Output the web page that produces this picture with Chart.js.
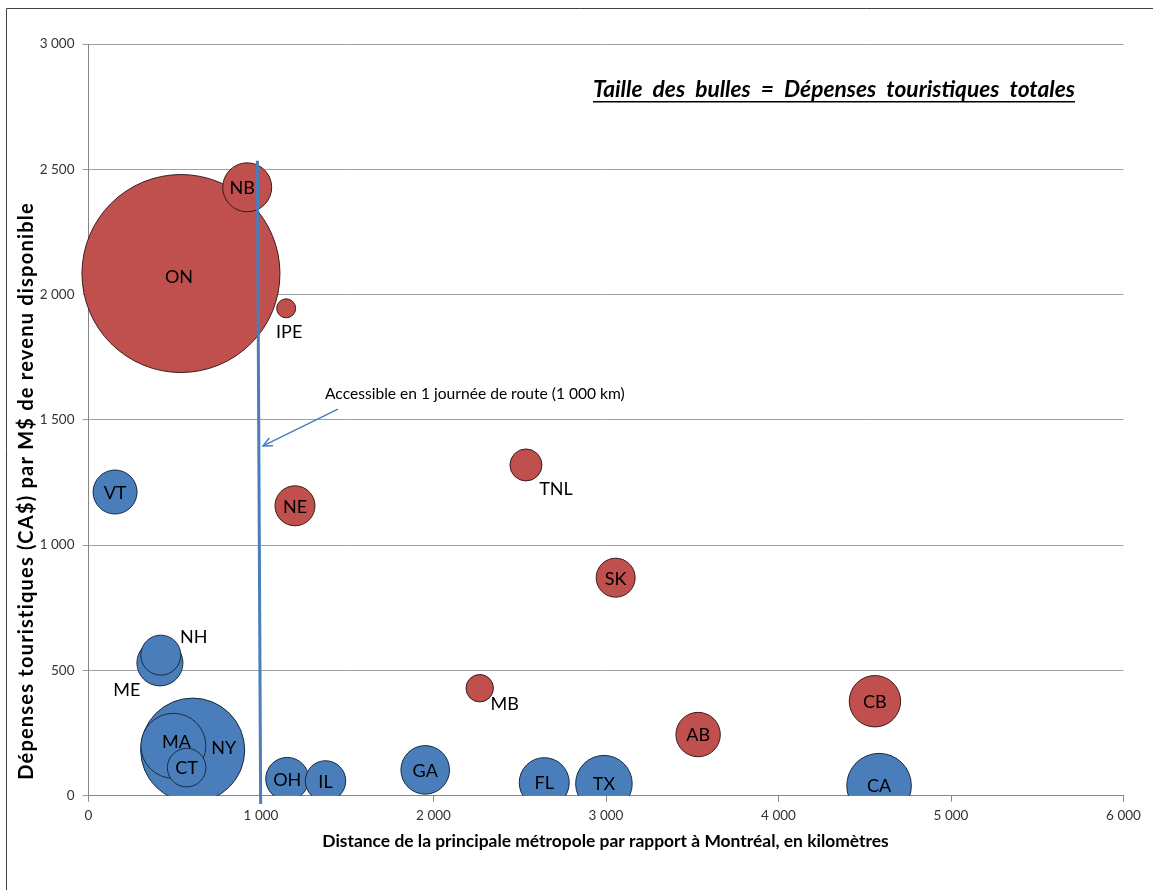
<!DOCTYPE html>
<html><head><meta charset="utf-8">
<script src="https://cdn.jsdelivr.net/npm/chart.js@4.4.0/dist/chart.umd.min.js"></script>
<style>html,body{margin:0;padding:0;background:#fff;}#wrap{position:relative;width:1153px;height:890px;}canvas{display:block;}</style>
</head><body><div id="wrap"><canvas id="c" width="1153" height="890"></canvas></div>
<script>
// ---- Data ----
const canadaLabels   = ['ON','NB','IPE','NE','TNL','SK','MB','CB','AB'];
const canadaDistance = [536, 920, 1146, 1197, 2536, 3056, 2268, 4559, 3534];
const canadaRate     = [2084, 2428, 1945, 1157, 1320, 870, 429, 377, 244];
const canadaTotal    = [9800, 600, 90, 400, 256, 380, 188, 660, 493];

const usLabels   = ['VT','ME','NH','NY','MA','CT','OH','IL','GA','FL','TX','CA'];
const usDistance = [154, 414, 419, 604, 492, 569, 1152, 1374, 1952, 2642, 2988, 4583];
const usRate     = [1212, 530, 561, 182, 199, 112, 67, 59, 103, 52, 48, 40];
const usTotal    = [484, 530, 400, 2704, 1056, 372, 462, 408, 590, 625, 800, 1043];

const xTickValues = [0, 1000, 2000, 3000, 4000, 5000, 6000];
const yTickValues = [0, 500, 1000, 1500, 2000, 2500, 3000];

const accessLineX = [979, 998];
const accessLineY = [2534, -33];

const titleText = 'Taille des bulles = Dépenses touristiques totales';
const xTitle = 'Distance de la principale métropole par rapport à Montréal, en kilomètres';
const yTitle = 'Dépenses touristiques (CA$) par M$ de revenu disponible';
const annotText = 'Accessible en 1 journée de route (1 000 km)';
const annotTextPos = [1371, 1603];
const annotArrow = [[1446, 1543], [1012, 1396]];

// ---- Styles ----
const F = 'Lato, "Open Sans", sans-serif';
const RED = '#c0504d', BLUE = '#4a7ebb';
const labelOffsets = {NH:[33,-19], ME:[-33,26], IPE:[3,23], TNL:[30,23], MB:[25,15], NY:[31,-3], MA:[3,-5], ON:[-2,3], NB:[-5,0]};

function pts(xs, ys, ts) { return xs.map((x, i) => ({x, y: ys[i], r: Math.sqrt(ts[i])})); }
function fmt(v) { return String(v).replace(/\B(?=(\d{3})+(?!\d))/g, ' '); }
function fitSize(ctx, text, prefix, target, base) {
  ctx.font = `${prefix} ${base}px ${F}`;
  return base * target / ctx.measureText(text).width;
}

const overlay = {
  id: 'overlay',
  afterDatasetsDraw(chart) {
    const ctx = chart.ctx, xs = chart.scales.x, ys = chart.scales.y;
    ctx.save();
    ctx.fillStyle = '#000'; ctx.textAlign = 'center'; ctx.textBaseline = 'middle';
    ctx.font = `18px ${F}`;
    chart.data.datasets.forEach((ds, di) => {
      if (!ds.pointLabels) return;
      chart.getDatasetMeta(di).data.forEach((el, i) => {
        const n = ds.pointLabels[i];
        const o = labelOffsets[n] || [0, 0];
        ctx.fillText(n, el.x + o[0], el.y + o[1] + 1);
      });
    });
    // annotation text + arrow
    let s = fitSize(ctx, annotText, '', 300, 14);
    ctx.font = `${s}px ${F}`;
    ctx.textAlign = 'left';
    ctx.fillText(annotText, xs.getPixelForValue(annotTextPos[0]), ys.getPixelForValue(annotTextPos[1]));
    const ax0 = xs.getPixelForValue(annotArrow[0][0]), ay0 = ys.getPixelForValue(annotArrow[0][1]);
    const ax1 = xs.getPixelForValue(annotArrow[1][0]), ay1 = ys.getPixelForValue(annotArrow[1][1]);
    ctx.strokeStyle = BLUE; ctx.lineWidth = 1.5;
    ctx.beginPath(); ctx.moveTo(ax0, ay0); ctx.lineTo(ax1, ay1); ctx.stroke();
    const ang = Math.atan2(ay1 - ay0, ax1 - ax0), L = 10;
    ctx.beginPath();
    ctx.moveTo(ax1 - L * Math.cos(ang - 0.45), ay1 - L * Math.sin(ang - 0.45));
    ctx.lineTo(ax1, ay1);
    ctx.lineTo(ax1 - L * Math.cos(ang + 0.45), ay1 - L * Math.sin(ang + 0.45));
    ctx.stroke();
    ctx.restore();
  },
  afterDraw(chart) {
    const ctx = chart.ctx;
    ctx.save();
    ctx.fillStyle = '#000';
    ctx.textBaseline = 'middle'; ctx.textAlign = 'center';
    // axis titles
    const sx = fitSize(ctx, xTitle, 'bold', 567, 16);
    ctx.font = `bold ${sx}px ${F}`;
    ctx.fillText(xTitle, 605.5, 841);
    // y title: slightly larger font, small letter spacing to reach the reference length
    const sy = sx * 1.15;
    ctx.font = `bold ${sy}px ${F}`;
    const wy = ctx.measureText(yTitle).width;
    const hasLS = 'letterSpacing' in ctx;
    if (hasLS) ctx.letterSpacing = Math.max(0, (578 - wy) / yTitle.length) + 'px';
    ctx.translate(27, 491); ctx.rotate(-Math.PI / 2);
    ctx.fillText(yTitle, 0, 0);
    ctx.setTransform(1, 0, 0, 1, 0, 0);
    if (hasLS) ctx.letterSpacing = '0px';
    // main title
    const st = fitSize(ctx, titleText, 'italic bold', 452, 20);
    ctx.font = `italic bold ${st}px ${F}`;
    ctx.textAlign = 'left';
    const w0 = ctx.measureText(titleText).width;
    const spaces = (titleText.match(/ /g) || []).length;
    if ('wordSpacing' in ctx) ctx.wordSpacing = Math.max(0, (482 - w0) / spaces) + 'px';
    ctx.fillText(titleText, 593, 90);
    ctx.fillRect(593, 101, 482, 1.5);
    if ('wordSpacing' in ctx) ctx.wordSpacing = '0px';
    // frame
    ctx.strokeStyle = '#404040'; ctx.lineWidth = 1;
    ctx.beginPath(); ctx.moveTo(6.5, 890); ctx.lineTo(6.5, 8.5); ctx.lineTo(1153, 8.5); ctx.stroke();
    ctx.restore();
  }
};

new Chart(document.getElementById('c'), {
  data: {
    datasets: [
      { type: 'line', label: 'access', data: accessLineX.map((x, i) => ({x, y: accessLineY[i]})),
        borderColor: BLUE, borderWidth: 3, pointRadius: 0, clip: false, order: 0 },
      { type: 'bubble', label: 'Canada', data: pts(canadaDistance, canadaRate, canadaTotal), pointLabels: canadaLabels,
        backgroundColor: RED, borderColor: '#3a1a1a', borderWidth: 1, order: 1,
        clip: {left: false, top: 0, right: 0, bottom: 0} },
      { type: 'bubble', label: 'USA', data: pts(usDistance, usRate, usTotal), pointLabels: usLabels,
        backgroundColor: BLUE, borderColor: '#1a2a40', borderWidth: 1, order: 1,
        clip: {left: false, top: 0, right: 0, bottom: 0} }
    ]
  },
  options: {
    responsive: false, animation: false, devicePixelRatio: 1,
    layout: { autoPadding: false, padding: { left: 0, top: 44, right: 29.5, bottom: 0 } },
    plugins: { legend: { display: false }, tooltip: { enabled: false } },
    scales: {
      x: { type: 'linear', min: 0, max: 6000,
        afterBuildTicks: s => { s.ticks = xTickValues.map(v => ({value: v})); },
        afterFit: s => { s.height = 890 - 795.7; },
        ticks: { callback: v => fmt(v), color: '#333', font: { family: F, size: 13.5 }, padding: 6, maxRotation: 0 },
        grid: { drawOnChartArea: false, drawTicks: true, tickLength: 6, color: '#868686' },
        border: { color: '#868686', width: 1 } },
      y: { type: 'linear', min: 0, max: 3000,
        afterBuildTicks: s => { s.ticks = yTickValues.map(v => ({value: v})); },
        afterFit: s => { s.width = 88.5; },
        ticks: { callback: v => fmt(v), color: '#333', font: { family: F, size: 13.5 }, padding: 8 },
        grid: { color: '#a0a0a0', drawTicks: true, tickLength: 6 },
        border: { color: '#868686', width: 1 } }
    }
  },
  plugins: [overlay]
});
</script></body></html>
